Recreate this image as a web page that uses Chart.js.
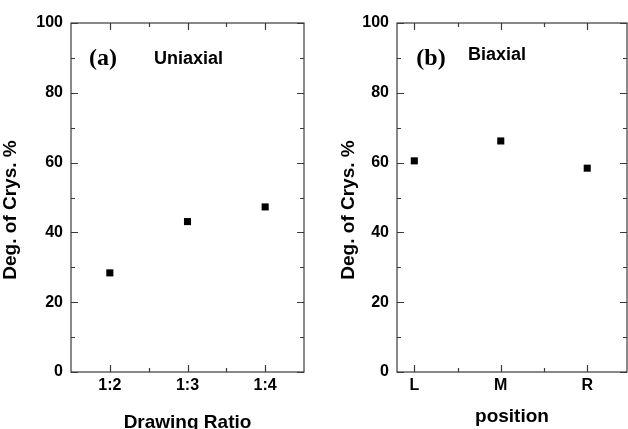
<!DOCTYPE html>
<html>
<head>
<meta charset="utf-8">
<script src="https://cdn.jsdelivr.net/npm/chart.js@4"></script>
<style>
  body { margin: 0; width: 628px; height: 429px; overflow: hidden; background: #fff; position: relative; }
  #wrapA { position: absolute; left: 0; top: 0; width: 314px; height: 429px; }
  #wrapB { position: absolute; left: 314px; top: 0; width: 326px; height: 429px; }
</style>
</head>
<body>
<div id="wrapA"><canvas id="chartA"></canvas></div>
<div id="wrapB"><canvas id="chartB"></canvas></div>
<script>
// panel (a)
const ratioLabels = ['1:2', '1:3', '1:4'];
const uniaxialCrys = [28.4, 43.1, 47.3];
// panel (b)
const positionLabels = ['L', 'M', 'R'];
const biaxialCrys = [60.5, 66.2, 58.4];
// shared y axis
const yTicks = [0, 20, 40, 60, 80, 100];

const sans = '"Liberation Sans", Arial, sans-serif';

// box round the plot, inward ticks and all the titles
const framePlugin = {
  id: 'frame',
  afterDraw(chart, args, o) {
    const { ctx, chartArea: a, scales: { x, y } } = chart;
    ctx.save();
    ctx.strokeStyle = '#3a3a3a';
    ctx.lineWidth = 1.2;
    ctx.strokeRect(a.left, a.top, a.right - a.left, a.bottom - a.top);
    ctx.beginPath();
    for (let v = 0; v <= 100; v += 10) {
      const py = Math.round(y.getPixelForValue(v)) + 0.5;
      const len = v % 20 === 0 ? 7 : 4;
      ctx.moveTo(a.left, py); ctx.lineTo(a.left + len, py);
      ctx.moveTo(a.right, py); ctx.lineTo(a.right - len, py);
    }
    for (let v = 1; v < x.max; v += 0.5) {
      const px = Math.round(x.getPixelForValue(v)) + 0.5;
      const len = v % 1 === 0 ? 7 : 4;
      ctx.moveTo(px, a.bottom); ctx.lineTo(px, a.bottom - len);
      ctx.moveTo(px, a.top); ctx.lineTo(px, a.top + len);
    }
    ctx.stroke();

    ctx.fillStyle = '#000';
    ctx.textBaseline = 'middle';
    ctx.font = 'bold 24px "Liberation Serif", "Times New Roman", serif';
    ctx.textAlign = 'center';
    ctx.fillText(o.tag, o.tagX, 59);
    ctx.font = 'bold 18px ' + sans;
    ctx.textAlign = 'left';
    ctx.fillText(o.note, o.noteX, o.noteY);

    ctx.font = 'bold 19px ' + sans;
    ctx.textAlign = 'center';
    ctx.textBaseline = 'alphabetic';
    ctx.fillText(o.xTitle, (a.left + a.right) / 2, o.xTitleY);

    ctx.translate(o.yTitleX, 210);
    ctx.rotate(-Math.PI / 2);
    ctx.textBaseline = 'middle';
    ctx.fillText('Deg. of Crys. %', 0, 0);
    ctx.restore();
  }
};

function makeChart(id, labels, values, p) {
  const width = p.width;
  const height = 429;
  new Chart(document.getElementById(id), {
    type: 'scatter',
    data: {
      datasets: [{
        data: values.map((v, i) => ({ x: i + 1, y: v })),
        pointStyle: 'rect',
        pointRadius: 5,
        pointHoverRadius: 5,
        backgroundColor: '#000',
        borderWidth: 0,
      }],
    },
    options: {
      responsive: true,
      maintainAspectRatio: false,
      animation: false,
      layout: { padding: { left: 0, top: 23, right: width - p.right, bottom: 0 } },
      plugins: {
        legend: { display: false },
        tooltip: { enabled: false },
        frame: p.frame,
      },
      scales: {
        x: {
          type: 'linear',
          min: p.xMin,
          max: p.xMax,
          grid: { display: false, drawTicks: false },
          border: { display: false },
          afterBuildTicks: (scale) => {
            scale.ticks = labels.map((l, i) => ({ value: i + 1 }));
          },
          afterFit: (scale) => { scale.height = height - 372; },
          ticks: {
            padding: 4,
            color: '#000',
            font: { family: sans, size: 16, weight: 'bold' },
            callback: (v) => labels[v - 1],
          },
        },
        y: {
          min: 0,
          max: 100,
          grid: { display: false, drawTicks: false },
          border: { display: false },
          afterBuildTicks: (scale) => {
            scale.ticks = yTicks.map((v) => ({ value: v }));
          },
          afterFit: (scale) => { scale.width = p.left; },
          ticks: {
            padding: 8,
            color: '#000',
            font: { family: sans, size: 16, weight: 'bold' },
          },
        },
      },
    },
    plugins: [framePlugin],
  });
}

makeChart('chartA', ratioLabels, uniaxialCrys, {
  width: 314, left: 71, right: 304, xMin: 0.5, xMax: 3.5,
  frame: { tag: '(a)', tagX: 103, note: 'Uniaxial', noteX: 154, noteY: 59,
           xTitle: 'Drawing Ratio', xTitleY: 428, yTitleX: 11 },
});

makeChart('chartB', positionLabels, biaxialCrys, {
  width: 326, left: 83, right: 313, xMin: 0.8, xMax: 3.46,
  frame: { tag: '(b)', tagX: 117, note: 'Biaxial', noteX: 154, noteY: 55,
           xTitle: 'position', xTitleY: 422, yTitleX: 35 },
});
</script>
</body>
</html>
